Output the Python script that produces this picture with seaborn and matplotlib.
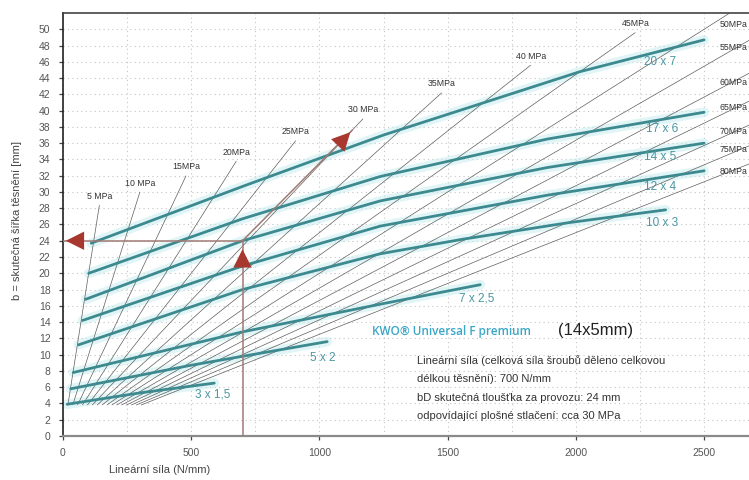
import numpy as np
import pandas as pd
import matplotlib
matplotlib.use("Agg")
import matplotlib.pyplot as plt
import seaborn as sns

# ---- data ----
sizes = ["3 x 1,5", "5 x 2", "7 x 2,5", "10 x 3", "12 x 4", "14 x 5", "17 x 6", "20 x 7"]
force_3x15 = [16, 300, 590]
width_3x15 = [3.9, 5.3, 6.5]
force_5x2 = [30, 500, 1030]
width_5x2 = [5.8, 8.7, 11.6]
force_7x25 = [40, 700, 1237, 1627]
width_7x25 = [7.8, 12.8, 16.2, 18.6]
force_10x3 = [60, 700, 1237, 1561, 1966, 2350]
width_10x3 = [11.2, 18.0, 22.4, 24.2, 26.2, 27.8]
force_12x4 = [76, 700, 1237, 1888, 2500]
width_12x4 = [14.2, 20.9, 25.8, 29.6, 32.6]
force_14x5 = [88, 700, 1237, 1888, 2500]
width_14x5 = [16.8, 24.0, 28.9, 33.0, 36.0]
force_17x6 = [100, 700, 1237, 1888, 2500]
width_17x6 = [20.0, 26.7, 31.9, 36.5, 39.8]
force_20x7 = [110, 719, 1250, 2017, 2500]
width_20x7 = [23.7, 30.9, 37.0, 44.8, 48.7]

label_force = [583, 1011, 1615, 2336, 2328, 2328, 2336, 2328]
label_width = [5.1, 9.6, 16.9, 26.2, 30.6, 34.3, 37.7, 46.0]

# surface pressure rays: width = force / pressure
mpa = [5, 10, 15, 20, 25, 30, 35, 40, 45, 50, 55, 60, 65, 70, 75, 80]
mpa_top_width = [28.4, 30.0, 32.0, 33.8, 36.3, 39.0, 42.2, 45.6, 49.6]   # rays with label at top end
mpa_right_label_width = [50.6, 47.7, 43.5, 40.4, 37.4, 35.2, 32.5]        # rays 50..80, labels at right
ray_start_width = 3.8

reading_force = 700
reading_width = 24
reading_mpa = 30
reading_arrow_width = 37.6

x_ticks = [0, 500, 1000, 1500, 2000, 2500]
y_ticks = list(range(0, 52, 2))

# ---- build table ----
forces = [force_3x15, force_5x2, force_7x25, force_10x3, force_12x4, force_14x5, force_17x6, force_20x7]
widths = [width_3x15, width_5x2, width_7x25, width_10x3, width_12x4, width_14x5, width_17x6, width_20x7]
rows = []
for s, f, w in zip(sizes, forces, widths):
    for fi, wi in zip(f, w):
        rows.append({"size": s, "force": fi, "width": wi})
df = pd.DataFrame(rows)

sns.set_theme(style="white")
plt.rcParams["font.family"] = ["Liberation Sans", "DejaVu Sans"]

fig = plt.figure(figsize=(7.49, 4.8), dpi=100)
ax = fig.add_axes([0.0841, 0.0917, 0.9159, 0.8812])
XMAX, YMAX = 2675, 52
ax.set_xlim(0, XMAX)
ax.set_ylim(0, YMAX)

# grid
ax.set_xticks(x_ticks)
ax.set_xticks(np.arange(250, XMAX, 500), minor=True)
ax.set_yticks(y_ticks)
ax.grid(True, which="both", color="#c4c4c4", lw=0.8, linestyle=(0, (1, 3)))
ax.set_axisbelow(True)

# pressure rays
ray_color = "#5e5e5e"
for i, p in enumerate(mpa):
    if i < len(mpa_top_width):
        b_end = mpa_top_width[i]
    else:
        b_end = YMAX
    bb = np.array([ray_start_width, b_end])
    ax.plot(bb * p, bb, color=ray_color, lw=0.5, zorder=2, solid_capstyle="butt")
    if i < len(mpa_top_width):
        lbl = f"{p} MPa" if p in (5, 10, 30, 40) else f"{p}MPa"
        ax.text(b_end * p, b_end + 1.1, lbl, fontsize=6.3, color="#333333",
                ha="center", va="center", zorder=5)
    else:
        ax.text(2560, mpa_right_label_width[i - len(mpa_top_width)], f"{p}MPa",
                fontsize=6.3, color="#333333", ha="left", va="center", zorder=5)

# glow under the curves
for s, f, w in zip(sizes, forces, widths):
    ax.plot(f, w, color="#c9eef2", lw=7, alpha=0.55, zorder=1, solid_capstyle="round")

# teal curves
teal = "#3c8a8f"
sns.lineplot(data=df, x="force", y="width", hue="size", hue_order=sizes,
             palette=[teal] * len(sizes), estimator=None, sort=False,
             lw=2.0, legend=False, ax=ax, zorder=3)

for s, lx, ly in zip(sizes, label_force, label_width):
    ax.text(lx, ly, s, fontsize=8.5, color="#4a97a0", ha="center", va="center", zorder=6)

# reading arrows
arr_color = "#a8382f"
line_color = "#a07a74"
ax.plot([reading_force, reading_force], [0, reading_width], color=line_color, lw=1.1, zorder=4)
ax.plot([reading_force, 0], [reading_width, reading_width], color=line_color, lw=1.1, zorder=4)
ax.plot([reading_force, reading_mpa * reading_arrow_width], [reading_width, reading_arrow_width],
        color=line_color, lw=1.1, zorder=4)
head = dict(arrowstyle="-|>,head_length=1.1,head_width=0.55", color=arr_color, lw=0)
ax.annotate("", xy=(reading_force, reading_width - 0.7),
            xytext=(reading_force, reading_width - 3.5), arrowprops=head, zorder=6)
ax.annotate("", xy=(0, reading_width), xytext=(150, reading_width), arrowprops=head, zorder=6)
ax.annotate("", xy=(reading_mpa * reading_arrow_width, reading_arrow_width),
            xytext=(reading_mpa * (reading_arrow_width - 3), reading_arrow_width - 3),
            arrowprops=head, zorder=6)

# info text
fig.text(372 / 749, 1 - 331 / 480, "KWO® Universal F premium", fontsize=8.5, color="#3aa6c8",
         fontfamily=["Open Sans", "DejaVu Sans"], fontweight="semibold", va="center", ha="left")
fig.text(558 / 749, 1 - 330 / 480, "(14x5mm)", fontsize=12, color="#222222", va="center", ha="left")
info_lines = ["Lineární síla (celková síla šroubů děleno celkovou",
              "délkou těsnění): 700 N/mm",
              "bD skutečná tloušťka za provozu: 24 mm",
              "odpovídající plošné stlačení: cca 30 MPa"]
for k, t in enumerate(info_lines):
    fig.text(417 / 749, 1 - (361 + 18.3 * k) / 480, t, fontsize=8, color="#333333",
             va="center", ha="left")

# axes styling
ax.spines["right"].set_visible(False)
ax.spines["left"].set_color("#222222")
ax.spines["left"].set_linewidth(1.2)
ax.spines["top"].set_color("#444444")
ax.spines["top"].set_linewidth(1.2)
ax.spines["bottom"].set_color("#8a8a8a")
ax.spines["bottom"].set_linewidth(1.6)
ax.tick_params(axis="both", which="major", labelsize=7.5, labelcolor="#555555",
               left=True, bottom=True, length=3, width=0.9, color="#444444", pad=6)
ax.tick_params(which="minor", length=0)

ax.set_xlabel("Lineární síla (N/mm)", fontsize=8, color="#444444")
ax.set_ylabel("b = skutečná šířka těsnění [mm]", fontsize=8, color="#444444")
ax.xaxis.set_label_coords(0.141, -0.068)
ax.yaxis.set_label_coords(-0.06, 0.51)

fig.savefig("out.png", dpi=100)
